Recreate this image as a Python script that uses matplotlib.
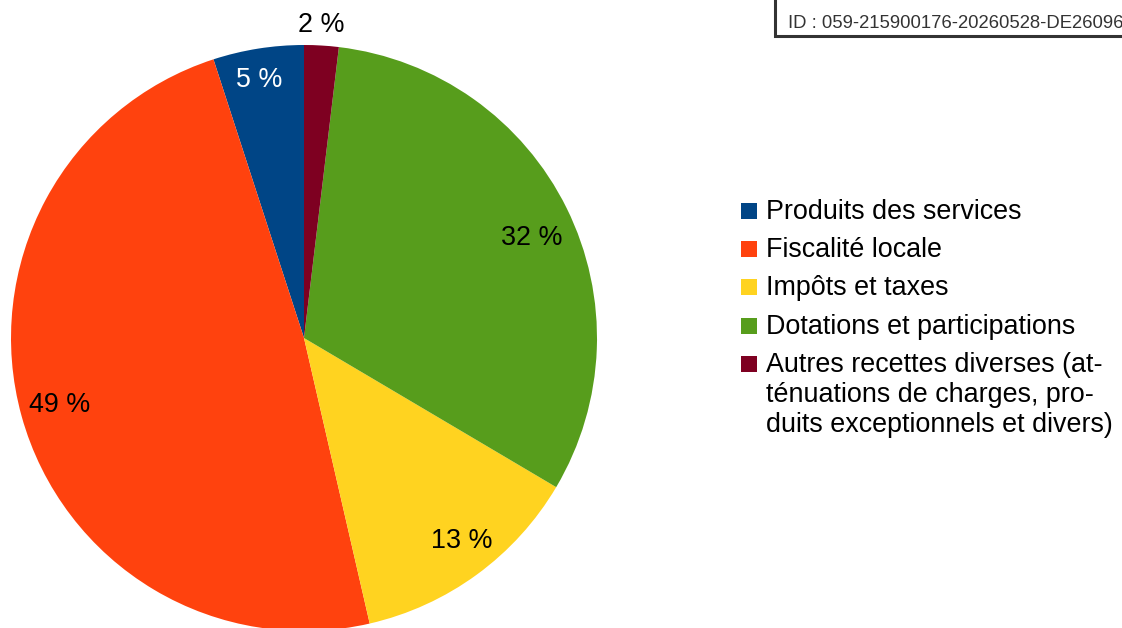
import matplotlib
matplotlib.use("Agg")
import matplotlib.pyplot as plt
from matplotlib.patches import Rectangle
import numpy as np

plt.rcParams['font.family'] = ['Liberation Sans', 'DejaVu Sans']

categories = ["Produits des services", "Fiscalité locale", "Impôts et taxes",
              "Dotations et participations",
              "Autres recettes diverses (at-\nténuations de charges, pro-\nduits exceptionnels et divers)"]
values = [5.0, 48.6, 12.9, 31.6, 1.9]
pct_labels = ["5 %", "49 %", "13 %", "32 %", "2 %"]
colors = ["#004586", "#ff420e", "#ffd320", "#579d1c", "#7e0021"]
label_colors = ["white", "black", "black", "black", "black"]
label_dist = [0.904, 0.862, 0.869, 0.852, 1.081]
label_ang_off = [0.8, -0.8, 2.0, -1.9, 0.3]
id_text = "ID : 059-215900176-20260528-DE26096"

W, H = 1122, 628
FS = 19.4
fig = plt.figure(figsize=(W / 100, H / 100), dpi=100)
ax = fig.add_axes([0, 0, 1, 1])
cx, cy, r = 304, H - 338, 293
wedges, _ = ax.pie(values, colors=colors, startangle=90, counterclock=True,
                   center=(cx, cy), radius=r, frame=True,
                   wedgeprops=dict(linewidth=0))
for w, lab, col, d, off in zip(wedges, pct_labels, label_colors, label_dist, label_ang_off):
    ang = np.deg2rad((w.theta1 + w.theta2) / 2 + off)
    ax.text(cx + d * r * np.cos(ang), cy + d * r * np.sin(ang), lab,
            ha='center', va='center_baseline', fontsize=FS, color=col)

ax.set_xlim(0, W)
ax.set_ylim(0, H)
ax.axis('off')

# legend (drawn manually so the marker sits on the first line of multi-line labels)
lx, sq, y0, step, line_step = 741, 16, 219, 38.2, 30
for i, (cat, c) in enumerate(zip(categories, colors)):
    yb = y0 + i * step  # baseline in pixels from top
    ax.add_patch(Rectangle((lx, H - yb), sq, sq, facecolor=c, edgecolor='none'))
    for j, line in enumerate(cat.split("\n")):
        ax.text(lx + 25, H - (yb + j * line_step), line, fontsize=FS,
                color='black', ha='left', va='baseline')

ax.add_patch(Rectangle((775, H - 36), 500, 100, facecolor='white',
                       edgecolor='#333333', linewidth=2.2, clip_on=False))
ax.text(788, H - 28, id_text, fontsize=13.3, color='#333333',
        ha='left', va='baseline')

fig.savefig("out.png", dpi=100)
